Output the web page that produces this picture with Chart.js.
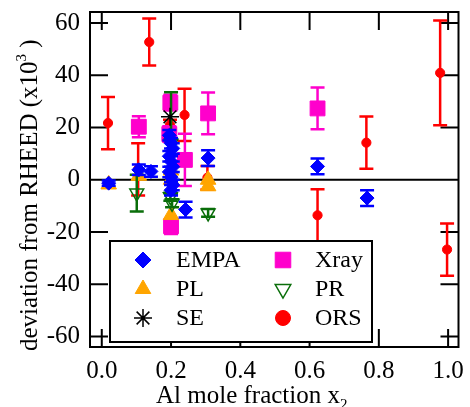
<!DOCTYPE html>
<html>
<head>
<meta charset="utf-8">
<script src="https://cdn.jsdelivr.net/npm/chart.js@4.4.1/dist/chart.umd.min.js"></script>
<style>
  html, body { margin: 0; padding: 0; background: #fff; }
  canvas { display: block; }
</style>
</head>
<body>
<canvas id="chart" width="470" height="407"></canvas>
<script>
// Tick values
const xTicks = [0, 0.2, 0.4, 0.6, 0.8, 1.0];
const yTicks = [-60, -40, -20, 0, 20, 40, 60];

// EMPA
const empaX = [0.02, 0.107, 0.142, 0.195, 0.2, 0.205, 0.195, 0.2, 0.205, 0.195, 0.2, 0.205, 0.2, 0.242, 0.307, 0.623, 0.766];
const empaY = [-1.3, 3.8, 3.2, 17, 14, 12, 9, 7, 5, 3, 1, -2, -4, -11.4, 8.3, 5.1, -7];
const empaErr = [1, 2, 2, 2, 2, 2, 2, 2, 2, 2, 2, 2, 2, 3, 3, 3, 3];

// Xray
const xrayX = [0.107, 0.198, 0.195, 0.2, 0.24, 0.307, 0.623];
const xrayY = [20.3, 29.5, 17.5, -17.8, 7.6, 25.4, 27.3];
const xrayErr = [4, 3, 3, 3, 10, 8, 8];

// PL
const plX = [0.02, 0.107, 0.2, 0.2, 0.2, 0.307, 0.307];
const plY = [-1.8, 1.5, 3.5, 0, -13.5, 0, -2.5];

// PR
const prX = [0.101, 0.2, 0.198, 0.203, 0.307];
const prY = [-5.1, 14, -6.5, -9, -12.7];
const prErr = [7, 19.5, 1.5, 1.5, 1.5];

// SE
const seX = [0.197];
const seY = [24.1];

// ORS
const orsX = [0.018, 0.105, 0.137, 0.197, 0.239, 0.305, 0.623, 0.764, 0.977, 0.997];
const orsY = [21.7, 4, 52.7, 21, 24.8, 0.8, -13.6, 14.2, 40.9, -26.7];
const orsErr = [10, 10, 9, 2, 10, 4.5, 10, 10, 20, 10];

const FONT = "'Liberation Serif', 'Times New Roman', serif";
const FS = 25;

function pts(xs, ys) {
  return xs.map((x, i) => ({ x: x, y: ys[i] }));
}

/**
 * Error bars drawn just before each dataset's points
 */
const errorBars = {
  id: 'errorBars',
  beforeDatasetDraw(chart, args) {
    const ds = chart.data.datasets[args.index];
    if (!ds.errors) return;
    const { ctx, chartArea: a } = chart;
    const xs = chart.scales.x, ys = chart.scales.y;
    ctx.save();
    ctx.beginPath();
    ctx.rect(a.left, a.top, a.right - a.left, a.bottom - a.top);
    ctx.clip();
    ctx.strokeStyle = ds.borderColor;
    ctx.lineWidth = 2.5;
    ds.data.forEach((p, i) => {
      const e = ds.errors[i];
      if (!e) return;
      const px = xs.getPixelForValue(p.x);
      const top = ys.getPixelForValue(p.y + e);
      const bot = ys.getPixelForValue(p.y - e);
      ctx.beginPath();
      ctx.moveTo(px, top); ctx.lineTo(px, bot);
      ctx.moveTo(px - 7, top); ctx.lineTo(px + 7, top);
      ctx.moveTo(px - 7, bot); ctx.lineTo(px + 7, bot);
      ctx.stroke();
    });
    ctx.restore();
  }
};

/**
 * Frame, inward ticks and zero line
 */
const frame = {
  id: 'frame',
  beforeDatasetsDraw(chart) {
    const { ctx, chartArea: a } = chart;
    const xs = chart.scales.x, ys = chart.scales.y;
    const tl = 18;
    ctx.save();
    ctx.strokeStyle = '#000';
    ctx.lineWidth = 2;
    ctx.beginPath();
    const y0 = ys.getPixelForValue(0);
    ctx.moveTo(a.left, y0); ctx.lineTo(a.right, y0);
    xTicks.forEach(v => {
      const px = xs.getPixelForValue(v);
      ctx.moveTo(px, a.bottom); ctx.lineTo(px, a.bottom - tl);
      ctx.moveTo(px, a.top); ctx.lineTo(px, a.top + tl);
    });
    yTicks.forEach(v => {
      const py = ys.getPixelForValue(v);
      ctx.moveTo(a.left, py); ctx.lineTo(a.left + tl, py);
      ctx.moveTo(a.right, py); ctx.lineTo(a.right - tl, py);
    });
    ctx.stroke();
    ctx.strokeRect(a.left, a.top, a.right - a.left, a.bottom - a.top);
    ctx.restore();
  },
  afterDraw(chart) {
    const ctx = chart.ctx;
    ctx.save();
    ctx.fillStyle = '#000';
    // y title, rotated
    ctx.translate(37, 351);
    ctx.rotate(-Math.PI / 2);
    ctx.font = FS + 'px ' + FONT;
    ctx.textBaseline = 'alphabetic';
    ctx.textAlign = 'left';
    const main = 'deviation from RHEED (x10';
    ctx.fillText(main, 0, 0);
    let w = ctx.measureText(main).width;
    ctx.font = '15px ' + FONT;
    ctx.fillText('3', w, -11);
    w += ctx.measureText('3').width;
    ctx.font = FS + 'px ' + FONT;
    ctx.fillText(' )', w, 0);
    ctx.restore();

    // x title with subscript
    ctx.save();
    ctx.fillStyle = '#000';
    ctx.font = FS + 'px ' + FONT;
    ctx.textBaseline = 'alphabetic';
    const xt = 'Al mole fraction x';
    ctx.fillText(xt, 156, 403);
    const xw = ctx.measureText(xt).width;
    ctx.font = '15px ' + FONT;
    ctx.fillText('2', 156 + xw, 409);
    ctx.restore();
  }
};

/**
 * Two-column legend box inside the plot
 */
const boxLegend = {
  id: 'boxLegend',
  afterDatasetsDraw(chart) {
    const ctx = chart.ctx;
    const bx = 110, by = 241, bw = 262, bh = 101;
    ctx.save();
    ctx.fillStyle = '#fff';
    ctx.fillRect(bx, by, bw, bh);
    ctx.strokeStyle = '#000';
    ctx.lineWidth = 2;
    ctx.strokeRect(bx, by, bw, bh);
    const slots = [[143, 260, 176], [283, 260, 315], [143, 289, 176], [283, 289, 315], [143, 318, 176], [283, 318, 315]];
    const order = ['EMPA', 'Xray', 'PL', 'PR', 'SE', 'ORS'];
    order.forEach((name, k) => {
      const ds = chart.data.datasets.find(d => d.label === name);
      const [sx, sy, tx] = slots[k];
      ctx.fillStyle = ds.backgroundColor;
      ctx.strokeStyle = ds.borderColor;
      ctx.lineWidth = ds.pointBorderWidth || 1;
      Chart.helpers.drawPoint(ctx, {
        pointStyle: ds.pointStyle,
        radius: ds.legendRadius,
        rotation: ds.rotation || 0,
        borderWidth: ds.pointBorderWidth || 1
      }, sx, sy);
      ctx.fillStyle = '#000';
      ctx.font = '24px ' + FONT;
      ctx.textBaseline = 'middle';
      ctx.textAlign = 'left';
      ctx.fillText(name, tx, sy + 1);
    });
    ctx.restore();
  }
};

const blue = '#0000ff', magenta = '#ff00cc', orange = '#ffa500', green = '#0a6e0a', red = '#ff0000';

new Chart(document.getElementById('chart'), {
  type: 'scatter',
  data: {
    datasets: [
      { label: 'EMPA', data: pts(empaX, empaY), errors: empaErr, order: 1,
        pointStyle: 'rectRot', pointRadius: 7, backgroundColor: blue, borderColor: blue,
        pointBorderWidth: 1, legendRadius: 8 },
      { label: 'SE', data: pts(seX, seY), order: 2,
        pointStyle: 'star', pointRadius: 9, backgroundColor: '#000', borderColor: '#000',
        pointBorderWidth: 1.5, legendRadius: 9 },
      { label: 'PR', data: pts(prX, prY), errors: prErr, order: 3,
        pointStyle: 'triangle', rotation: 180, pointRadius: 8, backgroundColor: 'rgba(0,0,0,0)',
        borderColor: green, pointBorderWidth: 1.5, legendRadius: 9 },
      { label: 'PL', data: pts(plX, plY), order: 4,
        pointStyle: 'triangle', pointRadius: 9, backgroundColor: orange, borderColor: orange,
        pointBorderWidth: 1, legendRadius: 9 },
      { label: 'Xray', data: pts(xrayX, xrayY), errors: xrayErr, order: 5,
        pointStyle: 'rect', pointRadius: 10.5, backgroundColor: magenta, borderColor: magenta,
        pointBorderWidth: 1, legendRadius: 11 },
      { label: 'ORS', data: pts(orsX, orsY), errors: orsErr, order: 6,
        pointStyle: 'circle', pointRadius: 4.6, backgroundColor: red, borderColor: red,
        pointBorderWidth: 1, legendRadius: 7.5 }
    ]
  },
  options: {
    responsive: false,
    animation: false,
    layout: { padding: { left: 0, right: 8, top: 12, bottom: 0 } },
    elements: { point: { hoverRadius: 0 } },
    plugins: { legend: { display: false }, tooltip: { enabled: false } },
    scales: {
      x: {
        type: 'linear', min: -0.034, max: 1.03,
        grid: { display: false, drawTicks: false },
        border: { display: false },
        ticks: { color: '#000', padding: 9, font: { family: FONT, size: FS }, maxRotation: 0,
          callback: v => v.toFixed(1) },
        afterBuildTicks: s => { s.ticks = xTicks.map(v => ({ value: v })); },
        afterFit: s => { s.height = 60; s.paddingLeft = 0; s.paddingRight = 0; }
      },
      y: {
        min: -64, max: 64.2,
        grid: { display: false, drawTicks: false },
        border: { display: false },
        ticks: { color: '#000', padding: 10, font: { family: FONT, size: FS } },
        afterBuildTicks: s => { s.ticks = yTicks.map(v => ({ value: v })); },
        afterFit: s => { s.width = 90; s.paddingTop = 0; s.paddingBottom = 0; }
      }
    }
  },
  plugins: [errorBars, frame, boxLegend]
});
</script>
</body>
</html>
